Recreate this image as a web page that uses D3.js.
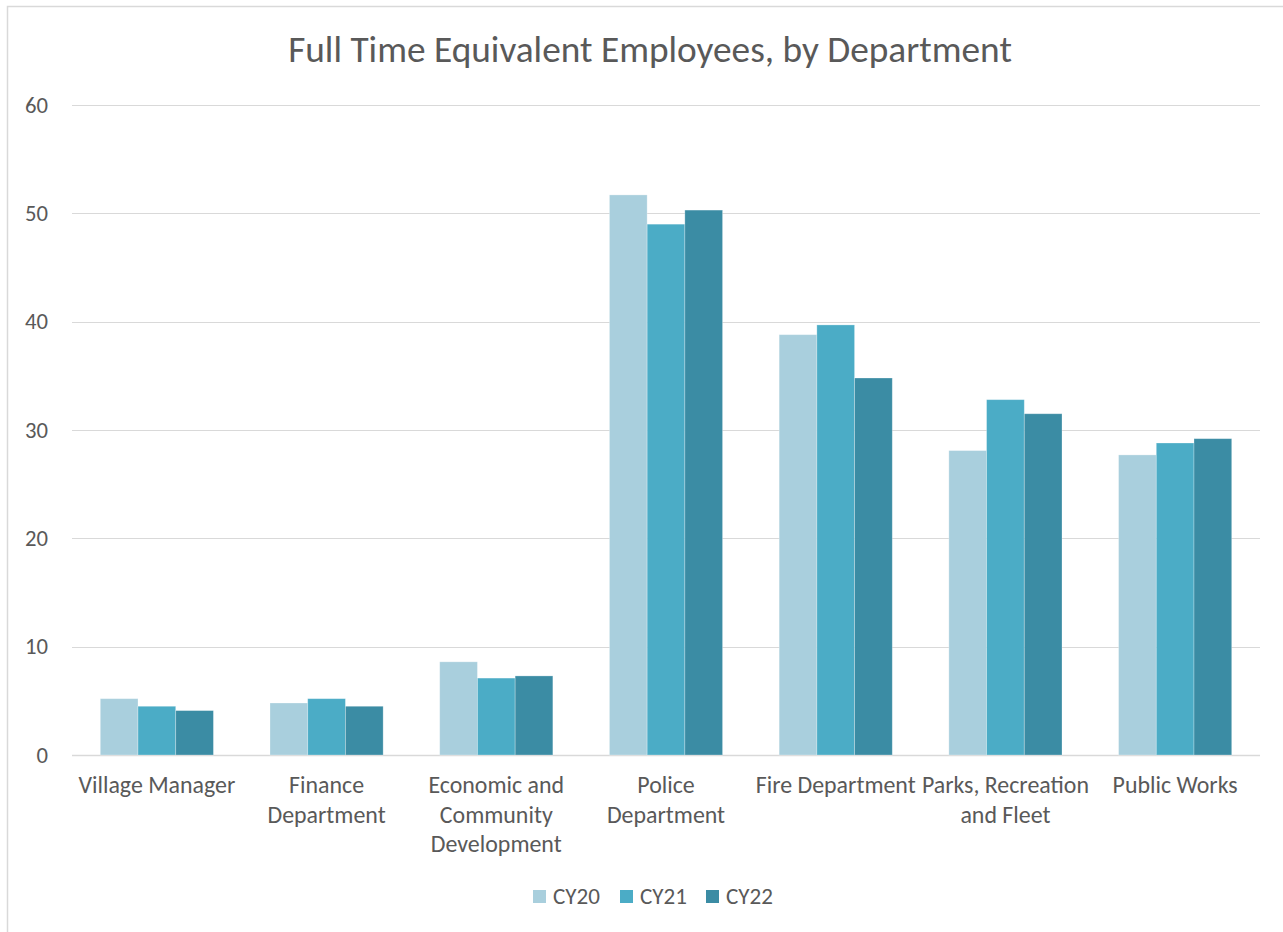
<!DOCTYPE html>
<html><head><meta charset="utf-8">
<script src="https://cdn.jsdelivr.net/npm/d3@7"></script>
<style>html,body{margin:0;padding:0;background:#fff;}svg{display:block;}</style>
</head><body>
<svg id="chart" width="1283" height="932"></svg>
<script>
const categories = ["Village Manager", "Finance\nDepartment", "Economic and\nCommunity\nDevelopment", "Police\nDepartment", "Fire Department", "Parks, Recreation\nand Fleet", "Public Works"];
const seriesNames = ["CY20", "CY21", "CY22"];
const cy20 = [5.2, 4.8, 8.6, 51.7, 38.8, 28.1, 27.7];
const cy21 = [4.5, 5.2, 7.1, 49.0, 39.7, 32.8, 28.8];
const cy22 = [4.1, 4.5, 7.3, 50.3, 34.8, 31.5, 29.2];
const yTicks = [0, 10, 20, 30, 40, 50, 60];
const colors = ["#A9CFDD", "#4BACC6", "#3B8CA4"];
const title = "Full Time Equivalent Employees, by Department";

const FONT = 'Carlito, Calibri, "Open Sans", sans-serif';
const TXT = "#595959";
const svg = d3.select("#chart");

// measure helper to size fonts to match reference widths
function fitSize(text, targetW, base) {
  const t = svg.append("text").attr("font-family", FONT).attr("font-size", base).text(text);
  const w = t.node().getComputedTextLength();
  t.remove();
  return base * targetW / w;
}
const titleSize = fitSize(title, 724, 30);
const labelSize = fitSize("Village Manager", 157, 20);
const tickSize = fitSize("60", 23, 18);
const legSize = fitSize("CY20", 47, 18);

// frame
svg.append("rect").attr("x", 7.5).attr("y", 6.5).attr("width", 1300).attr("height", 960)
  .attr("fill", "#fff").attr("stroke", "#D9D9D9").attr("stroke-width", 1.5);

const margin = {left: 72, right: 1260, top: 105, bottom: 755};
const x0 = d3.scaleBand().domain(categories).range([margin.left, margin.right]).paddingInner(0).paddingOuter(0);
const y = d3.scaleLinear().domain([0, 60]).range([margin.bottom, margin.top]);
const groupW = x0.bandwidth() * (3 / 4.5);
const x1 = d3.scaleBand().domain(seriesNames).range([0, groupW]).padding(0);

// gridlines
svg.append("g").selectAll("line").data(yTicks).join("line")
  .attr("x1", margin.left).attr("x2", margin.right)
  .attr("y1", d => Math.round(y(d)) + 0.5).attr("y2", d => Math.round(y(d)) + 0.5)
  .attr("stroke", "#D9D9D9").attr("stroke-width", d => d === 0 ? 1.5 : 1.2);

// y tick labels
const yAxis = d3.axisLeft(y).tickValues(yTicks).tickSize(0).tickPadding(0);
const ya = svg.append("g").attr("transform", `translate(48,0)`).call(yAxis);
ya.select(".domain").remove();
ya.selectAll("text").attr("font-family", FONT).attr("font-size", tickSize).attr("fill", TXT);

// bars
const data = [cy20, cy21, cy22];
const groups = svg.append("g").selectAll("g").data(categories).join("g")
  .attr("transform", d => `translate(${x0(d) + (x0.bandwidth() - groupW) / 2},0)`);
groups.selectAll("rect").data((d, i) => seriesNames.map((s, j) => ({s, v: data[j][i], j})))
  .join("rect")
  .attr("x", d => x1(d.s)).attr("width", x1.bandwidth())
  .attr("y", d => y(d.v)).attr("height", d => y(0) - y(d.v))
  .attr("fill", d => colors[d.j]).attr("stroke", "#fff").attr("stroke-opacity", 0.35).attr("stroke-width", 0.8);

// category labels
const lab = svg.append("g").selectAll("text").data(categories).join("text")
  .attr("x", d => x0(d) + x0.bandwidth() / 2).attr("y", 793)
  .attr("text-anchor", "middle").attr("font-family", FONT).attr("font-size", labelSize).attr("fill", TXT);
lab.each(function(d) {
  const lines = d.split("\n");
  d3.select(this).selectAll("tspan").data(lines).join("tspan")
    .attr("x", x0(d) + x0.bandwidth() / 2).attr("dy", (l, i) => i === 0 ? 0 : 29.5).text(l => l);
});

// title
svg.append("text").attr("x", 650).attr("y", 62).attr("text-anchor", "middle")
  .attr("font-family", FONT).attr("font-size", titleSize).attr("fill", TXT).text(title);

// legend
const legX = [533, 620, 706];
const leg = svg.append("g").selectAll("g").data(seriesNames).join("g")
  .attr("transform", (d, i) => `translate(${legX[i]},0)`);
leg.append("rect").attr("x", 0).attr("y", 890).attr("width", 13).attr("height", 13).attr("fill", (d, i) => colors[i]);
leg.append("text").attr("x", 20).attr("y", 904).attr("font-family", FONT).attr("font-size", legSize)
  .attr("fill", TXT).text(d => d);
</script>
</body></html>
